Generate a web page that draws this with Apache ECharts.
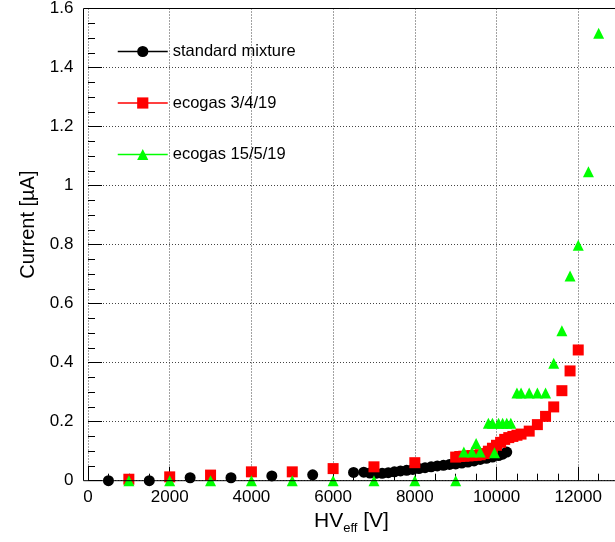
<!DOCTYPE html>
<html>
<head>
<meta charset="utf-8">
<script src="https://cdn.jsdelivr.net/npm/echarts@6/dist/echarts.min.js"></script>
<style>
  html, body { margin: 0; padding: 0; background: #fff; }
  #myChart { width: 615px; height: 542px; }
</style>
</head>
<body>
<div id="myChart"></div>
<script>
// series names
const seriesNames = ['standard mixture', 'ecogas 3/4/19', 'ecogas 15/5/19']

// standard mixture: HV [V] and current [uA]
const stdHV = [500, 1500, 2500, 3500, 4500, 5500, 6500, 6750, 6900, 7050, 7200, 7350, 7500, 7650, 7800, 7950,
  8100, 8250, 8400, 8550, 8700, 8850, 9000, 9150, 9300, 9450, 9600, 9750, 9900, 10050, 10150, 10250]
const stdI = [0.0, 0.0, 0.01, 0.01, 0.016, 0.02, 0.028, 0.029, 0.026, 0.025, 0.025, 0.027, 0.030, 0.033, 0.035, 0.038,
  0.041, 0.044, 0.047, 0.050, 0.052, 0.055, 0.057, 0.060, 0.063, 0.067, 0.072, 0.076, 0.080, 0.085, 0.090, 0.097]

// ecogas 3/4/19
const eco1HV = [1000, 2000, 3000, 4000, 5000, 6000, 7000, 8000, 9000, 9100, 9200, 9300, 9400, 9500, 9600, 9700,
  9800, 9900, 10000, 10100, 10200, 10300, 10400, 10500, 10600, 10800, 11000, 11200, 11400, 11600, 11800, 12000]
const eco1I = [0.005, 0.013, 0.019, 0.030, 0.030, 0.041, 0.047, 0.061, 0.080, 0.082, 0.083, 0.084, 0.085, 0.086, 0.088, 0.092,
  0.100, 0.110, 0.120, 0.130, 0.140, 0.146, 0.150, 0.154, 0.158, 0.168, 0.190, 0.218, 0.250, 0.305, 0.372, 0.443]

// ecogas 15/5/19
const eco2HV = [1000, 2000, 3000, 4000, 5000, 6000, 7000, 8000, 9000, 9200, 9400, 9500, 9600, 9950,
  9800, 9900, 10050, 10150, 10250, 10350, 10500, 10600, 10800, 11000, 11200, 11400, 11600, 11800, 12000, 12250, 12500]
const eco2I = [0, 0, 0, 0, 0, 0, 0, 0, 0, 0.097, 0.097, 0.126, 0.097, 0.095,
  0.195, 0.195, 0.195, 0.195, 0.195, 0.195, 0.297, 0.297, 0.297, 0.297, 0.297, 0.398, 0.508, 0.694, 0.798, 1.047, 1.516]

// axis ticks
const xTickStep = 2000
const yTickStep = 0.2

const pairs = (xs, ys) => xs.map((x, i) => [x, ys[i]])

const myChart = echarts.init(document.getElementById('myChart'))

const dotted = { color: '#444', type: [1, 2], width: 1 }
const tickText = { fontFamily: 'Liberation Sans', fontSize: 17, color: '#000' }

const makeSeries = (name, data, symbol, color) => ({
  name: name,
  type: 'line',
  data: data,
  symbol: symbol,
  symbolSize: 11,
  showSymbol: true,
  itemStyle: { color: color },
  lineStyle: { color: color, opacity: 0 },
  emphasis: { disabled: true }
})

myChart.setOption({
  animation: false,
  grid: { left: 88, right: 0, top: 8.5, bottom: 61.3 },
  legend: {
    orient: 'vertical',
    left: 112,
    top: 38,
    itemWidth: 50,
    itemHeight: 14,
    itemGap: 34.5,
    textStyle: { fontFamily: 'Liberation Sans', fontSize: 16.5, lineHeight: 14, color: '#000' },
    lineStyle: { opacity: 1, width: 1.5 },
    data: seriesNames
  },
  // frame round the plot
  graphic: [{
    type: 'rect',
    silent: true,
    z: 100,
    shape: { x: 83.5, y: 8.5, width: 540, height: 472.2 },
    style: { fill: null, stroke: '#000', lineWidth: 1 }
  }],
  xAxis: {
    type: 'value',
    min: 0,
    max: 12900,
    interval: xTickStep,
    name: '{m|HV}{s|eff}{m| [V]}',
    nameLocation: 'middle',
    nameGap: 29,
    nameTextStyle: {
      rich: {
        m: { fontFamily: 'Liberation Sans', fontSize: 21, color: '#000', lineHeight: 21, verticalAlign: 'top' },
        s: { fontFamily: 'Liberation Sans', fontSize: 13, color: '#000', lineHeight: 13, verticalAlign: 'top', padding: [11, 0, 0, 0] }
      }
    },
    axisLine: { show: false },
    axisTick: { show: true, inside: true, length: 14, lineStyle: { color: '#000' } },
    minorTick: { show: true, splitNumber: 4, length: 7, lineStyle: { color: '#000' } },
    axisLabel: Object.assign({ margin: 8, showMaxLabel: false, formatter: v => String(v) }, tickText),
    splitLine: { show: true, lineStyle: dotted }
  },
  yAxis: {
    type: 'value',
    min: 0,
    max: 1.6,
    interval: yTickStep,
    offset: 4.5,
    name: 'Current [µA]',
    nameLocation: 'middle',
    nameGap: 44,
    nameTextStyle: { fontFamily: 'Liberation Sans', fontSize: 20, color: '#000', padding: [0, 0, 0, 40] },
    axisLine: { show: false },
    axisTick: { show: true, inside: true, length: 14, lineStyle: { color: '#000' } },
    minorTick: { show: true, splitNumber: 4, length: 7, lineStyle: { color: '#000' } },
    axisLabel: Object.assign({ margin: 10 }, tickText),
    splitLine: { show: true, lineStyle: dotted }
  },
  series: [
    makeSeries(seriesNames[0], pairs(stdHV, stdI), 'circle', '#000000'),
    makeSeries(seriesNames[1], pairs(eco1HV, eco1I), 'rect', '#ff0000'),
    makeSeries(seriesNames[2], pairs(eco2HV, eco2I), 'triangle', '#00ff00')
  ]
})
</script>
</body>
</html>
